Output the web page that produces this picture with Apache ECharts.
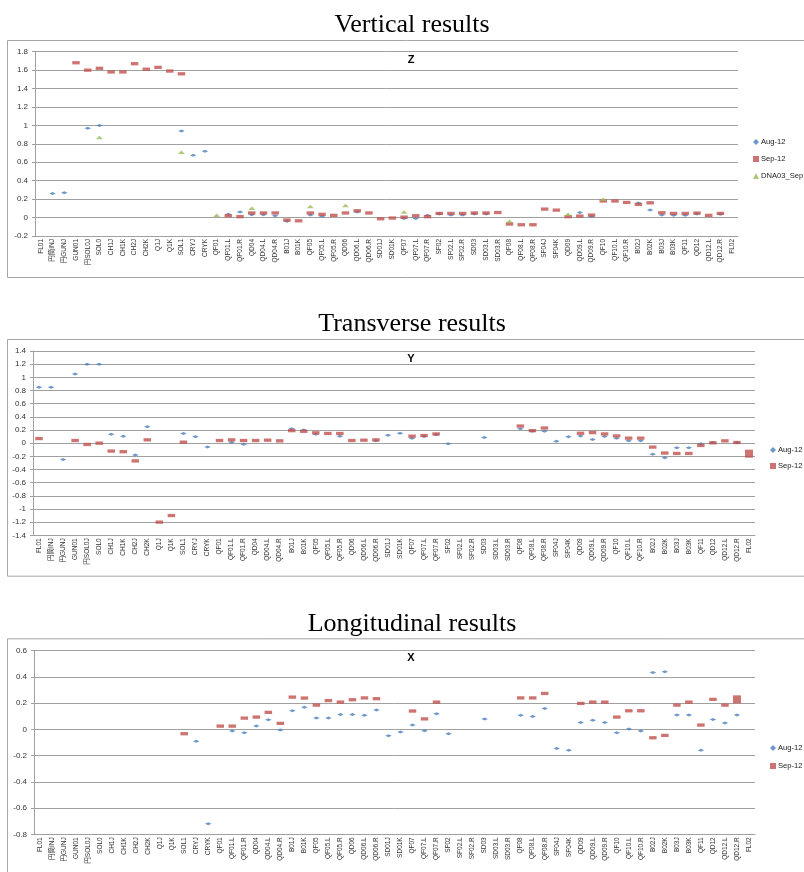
<!DOCTYPE html>
<html>
<head>
<meta charset="utf-8">
<script src="https://cdn.jsdelivr.net/npm/echarts@6/dist/echarts.min.js"></script>
<style>html,body{margin:0;padding:0;background:#fff;}#c{width:804px;height:872px;}</style>
</head>
<body>
<div id="c"></div>
<script>
var categories = ["FL01","円筒INJ","円GUNJ","GUN01","円SOL0J","SOL0","CH1J","CH1K","CH2J","CH2K","Q1J","Q1K","SOL1","CRYJ","CRYK","QF01","QF01.L","QF01.R","QD04","QD04.L","QD04.R","B01J","B01K","QF05","QF05.L","QF05.R","QD06","QD06.L","QD06.R","SD01J","SD01K","QF07","QF07.L","QF07.R","SF02","SF02.L","SF02.R","SD03","SD03.L","SD03.R","QF08","QF08.L","QF08.R","SF04J","SF04K","QD09","QD09.L","QD09.R","QF10","QF10.L","QF10.R","B02J","B02K","B03J","B03K","QF11","QD12","QD12.L","QD12.R","FL02"];

var seriesNames = ["Aug-12","Sep-12","DNA03_Sep"];
var panelTitles = ["Vertical results","Transverse results","Longitudinal results"];
var axisTitles = ["Z","Y","X"];

var zAxisRange = [-0.2, 1.8];
var yAxisRange = [-1.4, 1.4];
var xAxisRange = [-0.8, 0.6];

var zAug = [null,0.26,0.27,null,0.97,1.0,null,null,null,null,null,null,0.94,0.675,0.72,null,0.035,0.06,0.03,0.03,0.02,-0.04,null,0.027,0.015,null,null,0.06,null,null,null,-0.01,-0.01,0.024,0.04,0.027,0.027,0.04,0.04,null,null,null,null,null,null,null,0.056,0.012,null,null,null,0.157,0.081,0.027,0.024,0.024,0.038,null,0.035,null];
var zSep = [null,null,null,1.68,1.60,1.62,1.58,1.58,1.67,1.61,1.63,1.59,1.56,null,null,null,0.02,0.01,0.05,0.05,0.05,-0.027,-0.035,0.05,0.035,0.024,0.05,0.074,0.05,-0.013,-0.005,0.005,0.02,0.01,0.045,0.045,0.045,0.05,0.05,0.055,-0.07,-0.078,-0.078,0.092,0.081,0.01,0.016,0.027,0.18,0.18,0.164,0.143,0.16,0.052,0.045,0.045,0.049,0.024,0.045,null];
var zDna = [null,null,null,null,null,0.87,null,null,null,null,null,null,0.71,null,null,0.025,null,null,0.10,null,null,null,null,0.12,null,null,0.13,null,null,null,null,0.06,null,null,null,null,null,null,null,null,-0.04,null,null,null,null,0.035,null,null,0.20,null,null,null,null,null,null,null,null,null,null,null];

var yAug = [0.85,0.85,-0.25,1.05,1.2,1.2,0.137,0.106,-0.18,0.25,null,null,0.147,0.096,-0.06,null,0.015,-0.015,null,null,null,0.22,0.20,0.137,null,0.106,null,null,0.035,0.12,0.15,0.076,0.10,0.126,-0.01,null,null,0.086,null,null,0.22,0.18,0.18,0.03,0.096,0.11,0.056,0.10,0.076,0.035,0.035,-0.167,-0.22,-0.07,-0.07,-0.01,0.01,null,0.005,null];
var ySep = [0.07,null,null,0.04,-0.02,0.0,-0.12,-0.13,-0.27,0.05,-1.2,-1.1,0.015,null,null,0.04,0.05,0.04,0.04,0.045,0.035,0.19,0.18,0.157,0.147,0.147,0.04,0.045,0.05,null,null,0.106,0.116,0.14,null,null,null,null,null,null,0.26,0.19,0.23,null,null,0.15,0.16,0.14,0.11,0.076,0.076,-0.06,-0.15,-0.157,-0.157,-0.035,0.005,0.035,0.01,-0.16];

var xAug = [null,null,null,null,null,null,null,null,null,null,null,null,null,-0.09,-0.72,null,-0.013,-0.025,0.025,0.074,-0.005,0.142,0.168,0.086,0.086,0.114,0.114,0.107,0.147,-0.048,-0.02,0.033,-0.01,0.12,-0.033,null,null,0.079,null,null,0.107,0.099,0.16,-0.145,-0.16,0.053,0.069,0.053,-0.025,0.003,-0.013,0.434,0.44,0.109,0.109,-0.16,0.076,0.048,0.109,null];
var xSep = [null,null,null,null,null,null,null,null,null,null,null,null,-0.033,null,null,0.025,0.025,0.086,0.094,0.13,0.046,0.246,0.239,0.185,0.22,0.208,0.226,0.24,0.234,null,null,0.14,0.08,0.208,null,null,null,null,null,null,0.24,0.24,0.274,null,null,0.198,0.208,0.208,0.094,0.142,0.142,-0.064,-0.046,0.185,0.208,0.033,0.229,0.185,0.229,null];

// style config
var COL = {aug:'#4a7ebb', sep:'#c0504d', dna:'#9bbb59'};
var bigSepMarker = {1: {59:true}, 2: {58:true}};
var gridBoxes = [
  {left:35, top:51.7, width:703, height:184.3},
  {left:33, top:351, width:722, height:184.3},
  {left:34, top:650.7, width:721, height:183.6}
];
var frameTops = [40, 339, 638.3];
var frameBottoms = [277, 575.7, 900];
var titleY = [25.5, 324.3, 624];
var axisTitleY = [60, 359, 658];
var ranges = [zAxisRange, yAxisRange, xAxisRange];
var gridColor = '#a0a0a0';
var font = "'Liberation Sans','Noto Sans CJK JP',sans-serif";

function mk(arr, big) {
  return arr.map(function(v, i){
    if (v === null) return '-';
    if (big && big[i]) return {value: v, symbolSize: [8, 8]};
    return v;
  });
}

var grids = [], xAxes = [], yAxes = [], series = [], legends = [], graphics = [];
for (var p = 0; p < 3; p++) {
  var g = gridBoxes[p];
  grids.push({left:g.left, top:g.top, width:g.width, height:g.height, containLabel:false});
  xAxes.push({
    type:'category', gridIndex:p, data:categories, boundaryGap:true,
    axisLine:{show:true, onZero:false, lineStyle:{color:gridColor, width:1}},
    axisTick:{show:false},
    axisLabel:{rotate:90, interval:0, fontSize:6.5, margin:3, color:'#333', fontFamily:font},
    splitLine:{show:false}
  });
  yAxes.push({
    type:'value', gridIndex:p, min:ranges[p][0], max:ranges[p][1], interval:0.2,
    axisLine:{show:true, lineStyle:{color:gridColor, width:1}},
    axisTick:{show:true, inside:false, length:3, lineStyle:{color:gridColor}},
    axisLabel:{fontSize:8, margin:7, color:'#333', fontFamily:font,
      formatter:function(v){ return String(Math.round(v*10)/10); }},
    splitLine:{show:true, lineStyle:{color:gridColor, width:1}}
  });
  graphics.push({type:'rect', shape:{x:7.5, y:frameTops[p]+0.5, width:800, height:frameBottoms[p]-frameTops[p]},
    style:{fill:'none', stroke:'#a6a6a6', lineWidth:1}, silent:true, z:-10});
  graphics.push({type:'text', x:412, y:titleY[p], style:{text:panelTitles[p], font:"26px 'Liberation Serif', serif", fill:'#000', textAlign:'center', textVerticalAlign:'middle'}, silent:true});
  graphics.push({type:'text', x:411, y:axisTitleY[p], style:{text:axisTitles[p], font:"bold 11px 'Liberation Sans', sans-serif", fill:'#000', textAlign:'center', textVerticalAlign:'middle'}, silent:true});
}

var augs = [zAug, yAug, xAug], seps = [zSep, ySep, xSep];
for (var p2 = 0; p2 < 3; p2++) {
  series.push({name:seriesNames[0], type:'scatter', xAxisIndex:p2, yAxisIndex:p2, data:mk(augs[p2], null),
    symbol:'diamond', symbolSize:[6.5,3], itemStyle:{color:COL.aug}, z:2});
  series.push({name:seriesNames[1], type:'scatter', xAxisIndex:p2, yAxisIndex:p2, data:mk(seps[p2], bigSepMarker[p2]),
    symbol:'rect', symbolSize:[7.5,3.3], itemStyle:{color:COL.sep}, z:3});
}
series.push({name:seriesNames[2], type:'scatter', xAxisIndex:0, yAxisIndex:0, data:mk(zDna, null),
  symbol:'triangle', symbolSize:[7,3.5], itemStyle:{color:COL.dna}, z:4});

var legendText = {fontSize:7.6, color:'#222', fontFamily:font, lineHeight:10, padding:[0,0,0,-3]};
legends.push({orient:'vertical', left:753, top:137, itemWidth:6, itemHeight:6, itemGap:7, padding:0,
  data:[{name:'Aug-12', icon:'diamond'},{name:'Sep-12', icon:'rect'},{name:'DNA03_Sep', icon:'triangle'}],
  textStyle:legendText, selectedMode:false});
legends.push({orient:'vertical', left:770, top:445, itemWidth:6, itemHeight:6, itemGap:6, padding:0,
  data:[{name:'Aug-12', icon:'diamond'},{name:'Sep-12', icon:'rect'}],
  textStyle:legendText, selectedMode:false});
legends.push({orient:'vertical', left:770, top:743, itemWidth:6, itemHeight:6, itemGap:8, padding:0,
  data:[{name:'Aug-12', icon:'diamond'},{name:'Sep-12', icon:'rect'}],
  textStyle:legendText, selectedMode:false});

var chart = echarts.init(document.getElementById('c'), null, {renderer:'canvas'});
chart.setOption({
  animation:false,
  backgroundColor:'#fff',
  grid:grids, xAxis:xAxes, yAxis:yAxes, series:series, legend:legends, graphic:graphics
});
</script>
</body>
</html>
